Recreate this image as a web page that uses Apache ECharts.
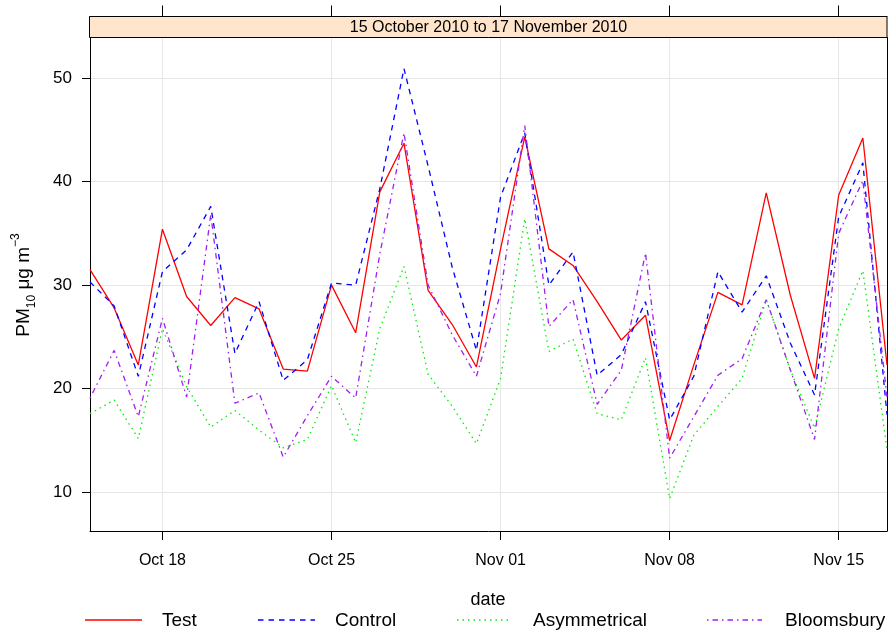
<!DOCTYPE html>
<html>
<head>
<meta charset="utf-8">
<script src="https://cdn.jsdelivr.net/npm/echarts@6/dist/echarts.min.js"></script>
<style>
  html, body { margin: 0; padding: 0; background: #ffffff; }
  #chart { width: 888px; height: 635px; }
</style>
</head>
<body>
<div id="chart"></div>
<script>
// Daily PM10 means, 15 Oct 2010 – 17 Nov 2010
const dates = [
  'Oct 15','Oct 16','Oct 17','Oct 18','Oct 19','Oct 20','Oct 21','Oct 22','Oct 23',
  'Oct 24','Oct 25','Oct 26','Oct 27','Oct 28','Oct 29','Oct 30','Oct 31',
  'Nov 01','Nov 02','Nov 03','Nov 04','Nov 05','Nov 06','Nov 07','Nov 08','Nov 09',
  'Nov 10','Nov 11','Nov 12','Nov 13','Nov 14','Nov 15','Nov 16','Nov 17'
];
const tickDates = ['Oct 18', 'Oct 25', 'Nov 01', 'Nov 08', 'Nov 15'];
const yTicks = [10, 20, 30, 40, 50];

const test = [
  31.5, 27.8, 22.3, 35.4, 28.9, 26.1, 28.8, 27.7, 21.9, 21.7, 30.0, 25.4, 39.0, 43.7, 29.5, 26.2, 22.1,
  33.5, 44.3, 33.5, 31.9, 28.4, 24.7, 27.1, 15.0, 22.3, 29.3, 28.1, 38.9, 29.0, 21.0, 38.7, 44.2, 22.3
];
const control = [
  30.3, 28.0, 21.2, 31.3, 33.4, 37.6, 23.4, 28.4, 20.8, 22.8, 30.2, 30.0, 39.3, 50.9, 41.5, 31.7, 23.7,
  38.5, 44.7, 30.0, 33.2, 21.3, 23.3, 28.4, 17.0, 21.2, 31.3, 27.4, 30.9, 24.4, 19.4, 36.6, 41.8, 17.5
];
const asymmetrical = [
  17.6, 18.9, 15.2, 25.8, 20.2, 16.3, 17.9, 16.0, 14.3, 15.1, 20.3, 14.8, 25.8, 31.8, 21.4, 18.3, 14.7,
  21.0, 36.4, 23.6, 24.8, 17.6, 17.0, 23.0, 9.4, 15.5, 18.3, 21.0, 28.6, 21.8, 16.2, 25.8, 31.4, 14.1
];
const bloomsbury = [
  19.1, 23.7, 17.3, 26.8, 19.2, 36.8, 18.6, 19.6, 13.4, 17.4, 21.2, 19.1, 33.0, 44.7, 30.0, 25.2, 21.2,
  29.2, 45.4, 26.0, 28.6, 18.5, 21.8, 33.1, 13.3, 17.3, 21.3, 22.9, 28.6, 21.8, 15.1, 35.0, 40.1, 19.2
];

const seriesNames = ['Test', 'Control', 'Asymmetrical', 'Bloomsbury'];
const stripTitle = '15 October 2010 to 17 November 2010';
const xTitle = 'date';

const FONT = '"Liberation Sans", Arial, Helvetica, sans-serif';
const colors = ['#ff0000', '#0000ff', '#00ee00', '#a020f0'];
const dashes = ['solid', [5.5, 5], [1.5, 4], [1.5, 4, 5.5, 4]];
const values = [test, control, asymmetrical, bloomsbury];

const isTickDate = (idx, val) => tickDates.indexOf(val) >= 0;

const G = { left: 90, right: 1, top: 37.5, bottom: 104 };
const gridRight = 888 - G.right;

const legendItems = [
  { x1: 85, x2: 142, tx: 162 },
  { x1: 258, x2: 315, tx: 335 },
  { x1: 457, x2: 510, tx: 533 },
  { x1: 707, x2: 762, tx: 785 }
];

const graphics = [
  // strip above the panel
  {
    type: 'rect', z: 1,
    shape: { x: G.left - 0.5, y: 16.5, width: gridRight - G.left + 0.5, height: G.top - 16.5 },
    style: { fill: '#ffe5cc', stroke: '#000', lineWidth: 1 }
  },
  {
    type: 'text', z: 2, x: (G.left + gridRight) / 2, y: 27.5,
    style: { text: stripTitle, fontSize: 16, fontFamily: FONT, fill: '#000', align: 'center', verticalAlign: 'middle' }
  },
  // y-axis title
  {
    type: 'text', z: 2, x: 24, y: 285, rotation: Math.PI / 2,
    style: {
      text: '{m|PM}{s|10}{m| μg m}{p|−3}',
      fontFamily: FONT, fill: '#000', align: 'center', verticalAlign: 'middle',
      rich: {
        m: { fontSize: 19, lineHeight: 28, verticalAlign: 'middle', fontFamily: FONT, fill: '#000' },
        s: { fontSize: 12, lineHeight: 28, verticalAlign: 'bottom', fontFamily: FONT, fill: '#000' },
        p: { fontSize: 12, lineHeight: 28, verticalAlign: 'top', fontFamily: FONT, fill: '#000' }
      }
    }
  },
  // x-axis title
  {
    type: 'text', z: 2, x: 488, y: 600,
    style: { text: xTitle, fontSize: 18, fontFamily: FONT, fill: '#000', align: 'center', verticalAlign: 'middle' }
  }
];

legendItems.forEach((it, i) => {
  graphics.push({
    type: 'line', z: 2,
    shape: { x1: it.x1, y1: 620, x2: it.x2, y2: 620 },
    style: { stroke: colors[i], lineWidth: 1.4, lineDash: dashes[i] === 'solid' ? null : dashes[i] }
  });
  graphics.push({
    type: 'text', z: 2, x: it.tx, y: 621,
    style: { text: seriesNames[i], fontSize: 19, fontFamily: FONT, fill: '#000', align: 'left', verticalAlign: 'middle' }
  });
});

const chart = echarts.init(document.getElementById('chart'), null, { renderer: 'canvas' });

chart.setOption({
  animation: false,
  backgroundColor: '#ffffff',
  grid: { left: G.left, right: G.right, top: G.top, bottom: G.bottom },
  xAxis: [
    {
      type: 'category', position: 'bottom', data: dates, boundaryGap: false,
      axisLine: { show: true, lineStyle: { color: '#000', width: 1 } },
      axisTick: { show: true, length: 9, interval: isTickDate, lineStyle: { color: '#000' } },
      axisLabel: { interval: isTickDate, margin: 22, fontSize: 16, fontFamily: FONT, color: '#000' },
      splitLine: { show: true, interval: isTickDate, lineStyle: { color: '#e6e6e6', width: 1 } }
    },
    {
      type: 'category', position: 'top', data: dates, boundaryGap: false, offset: G.top - 16.5,
      axisLine: { show: true, lineStyle: { color: '#000', width: 1 } },
      axisTick: { show: true, length: 11, interval: isTickDate, lineStyle: { color: '#000' } },
      axisLabel: { show: false },
      splitLine: { show: false }
    }
  ],
  yAxis: [
    {
      type: 'value', position: 'left', min: 6.27, max: 53.9,
      axisLine: { show: true, lineStyle: { color: '#000', width: 1 } },
      axisTick: { show: true, length: 8, customValues: yTicks, lineStyle: { color: '#000' } },
      axisLabel: { customValues: yTicks, margin: 18, fontSize: 17, fontFamily: FONT, color: '#000' },
      splitLine: { show: true, lineStyle: { color: '#e6e6e6', width: 1 } }
    },
    {
      type: 'value', position: 'right', min: 6.27, max: 53.9,
      axisLine: { show: true, lineStyle: { color: '#000', width: 1 } },
      axisTick: { show: false }, axisLabel: { show: false }, splitLine: { show: false }
    }
  ],
  series: seriesNames.map((name, i) => ({
    name: name,
    type: 'line',
    data: values[i],
    showSymbol: false,
    symbol: 'none',
    z: 3 + i,
    lineStyle: { color: colors[i], width: 1.3, type: dashes[i] }
  })),
  graphic: graphics
});
</script>
</body>
</html>
